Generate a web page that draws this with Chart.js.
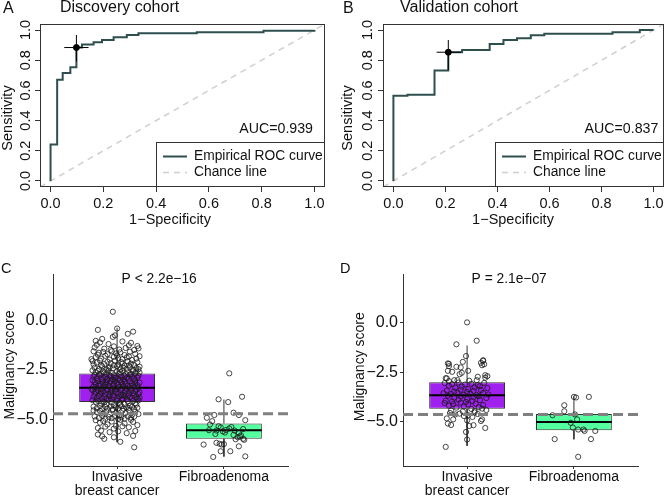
<!DOCTYPE html>
<html>
<head>
<meta charset="utf-8">
<title>ROC and malignancy score</title>
<script src="https://cdn.jsdelivr.net/npm/chart.js@4.4.1/dist/chart.umd.min.js"></script>
<style>
  body { margin: 0; background: #fff; width: 669px; height: 498px; position: relative; overflow: hidden; }
  canvas { position: absolute; }
</style>
</head>
<body>
<canvas id="rocA" width="335" height="250" style="left:0;top:0"></canvas>
<canvas id="rocB" width="334" height="250" style="left:335px;top:0"></canvas>
<canvas id="boxC" width="335" height="248" style="left:0;top:250px"></canvas>
<canvas id="boxD" width="334" height="248" style="left:335px;top:250px"></canvas>
<script>
// ---- ROC data (1-specificity / sensitivity at each step corner) ----
const discFpr = [0, 0, 0.025, 0.046, 0.075, 0.098, 0.119, 0.163, 0.195, 0.239, 0.289, 0.333, 0.554, 0.807, 1.0];
const discTpr = [0, 0.242, 0.670, 0.716, 0.754, 0.884, 0.905, 0.919, 0.934, 0.952, 0.967, 0.978, 0.985, 0.996, 1.0];
const discCut = [0.098, 0.884];
const discCutFpr = [0.052, 0.144];
const discCutTpr = [0.791, 0.967];
const discAuc = 'AUC=0.939';

const valFpr = [0, 0, 0.054, 0.158, 0.211, 0.264, 0.370, 0.423, 0.475, 0.528, 0.580, 0.842, 0.947, 1.0];
const valTpr = [0, 0.565, 0.571, 0.732, 0.853, 0.868, 0.908, 0.934, 0.945, 0.965, 0.976, 0.985, 1.0, 1.0];
const valCut = [0.211, 0.853];
const valCutFpr = [0.166, 0.260];
const valCutTpr = [0.736, 0.934];
const valAuc = 'AUC=0.837';

const rocTicks = [0, 0.2, 0.4, 0.6, 0.8, 1.0];
const rocRange = [-0.04, 1.04];

// ---- malignancy score data ----
const groupLabels = [['Invasive', 'breast cancer'], ['Fibroadenoma']];
const scoreTicks = [-5, -2.5, 0];

// box stats per group: [invasive, fibroadenoma]
const discLow = [-6.17, -6.90];
const discQ1 = [-4.13, -6.00];
const discMed = [-3.40, -5.56];
const discQ3 = [-2.68, -5.22];
const discHigh = [-0.35, -4.00];
const discCutoff = -4.72;
const discP = 'P < 2.2e\u221216';

const valLow = [-6.20, -5.87];
const valQ1 = [-4.34, -5.42];
const valMed = [-3.66, -5.00];
const valQ3 = [-3.00, -4.60];
const valHigh = [-1.16, -3.70];
const valCutoff = -4.62;
const valP = 'P = 2.1e\u221207';

// jittered points [x, score]
const discInvasive = [
  [0.96,0.46],[1.00,-0.39],[0.82,-0.46],[1.10,-0.66],[1.15,-0.55],[0.96,-0.82],[0.98,-0.74],[0.80,-1.02],[0.86,-0.92],
  [0.84,-1.10],[0.92,-1.18],[1.05,-1.05],[1.13,-1.12],[1.19,-1.28],[0.79,-1.35],[0.88,-1.42],[0.97,-1.30],[1.02,-1.46],[1.08,-1.38],[1.16,-1.48],[0.81,-1.22],[1.11,-1.25],[0.94,-1.48],[1.20,-1.40],
  [0.78,-1.55],[0.83,-1.62],[0.87,-1.58],[0.91,-1.70],[0.95,-1.55],[0.99,-1.66],[1.03,-1.60],[1.07,-1.74],[1.12,-1.57],[1.17,-1.68],[1.21,-1.80],[0.80,-1.85],[0.85,-1.92],[0.89,-1.78],[0.93,-1.97],[0.97,-1.83],[1.01,-1.90],[1.05,-1.95],[1.09,-1.86],[1.14,-1.99],[1.18,-1.92],[0.82,-1.72],[1.00,-1.76],[1.11,-1.81],[0.76,-1.95],
  [0.77,-2.05],[0.81,-2.12],[0.84,-2.02],[0.88,-2.20],[0.91,-2.08],[0.94,-2.15],[0.98,-2.03],[1.01,-2.22],[1.04,-2.10],[1.07,-2.28],[1.10,-2.06],[1.13,-2.18],[1.16,-2.25],[1.19,-2.11],[1.21,-2.33],[0.79,-2.38],[0.83,-2.45],[0.86,-2.31],[0.90,-2.48],[0.93,-2.36],[0.96,-2.42],[1.00,-2.30],[1.03,-2.47],[1.06,-2.39],[1.09,-2.44],[1.12,-2.35],[1.15,-2.49],[1.18,-2.40],[0.85,-2.26],[0.97,-2.26],[1.11,-2.27],[0.78,-2.22],[0.92,-2.41],[1.05,-2.17],[1.20,-2.46],
  [0.77,-2.52],[0.80,-2.60],[0.82,-2.55],[0.85,-2.68],[0.87,-2.58],[0.90,-2.71],[0.92,-2.53],[0.95,-2.64],[0.97,-2.76],[1.00,-2.57],[1.02,-2.69],[1.05,-2.54],[1.07,-2.81],[1.10,-2.62],[1.12,-2.74],[1.15,-2.56],[1.17,-2.67],[1.20,-2.79],[0.78,-2.84],[0.81,-2.92],[0.84,-2.78],[0.86,-2.97],[0.89,-2.86],[0.91,-2.94],[0.94,-2.82],[0.96,-2.99],[0.99,-2.88],[1.01,-2.95],[1.04,-2.83],[1.06,-2.98],[1.09,-2.89],[1.11,-2.93],[1.14,-2.85],[1.16,-2.96],[1.19,-2.90],[1.21,-2.63],[0.83,-2.72],[0.93,-2.77],[1.03,-2.61],[1.13,-2.70],[0.79,-2.75],[0.88,-2.63],[0.98,-2.91],[1.08,-2.72],[1.18,-2.58],
  [0.77,-3.03],[0.79,-3.12],[0.82,-3.06],[0.84,-3.20],[0.86,-3.09],[0.89,-3.25],[0.91,-3.02],[0.93,-3.15],[0.96,-3.28],[0.98,-3.05],[1.00,-3.18],[1.03,-3.01],[1.05,-3.23],[1.07,-3.10],[1.10,-3.30],[1.12,-3.07],[1.14,-3.19],[1.17,-3.04],[1.19,-3.27],[1.21,-3.14],[0.78,-3.34],[0.81,-3.42],[0.83,-3.31],[0.85,-3.48],[0.88,-3.37],[0.90,-3.45],[0.92,-3.33],[0.95,-3.49],[0.97,-3.39],[0.99,-3.46],[1.02,-3.35],[1.04,-3.44],[1.06,-3.32],[1.09,-3.47],[1.11,-3.38],[1.13,-3.43],[1.16,-3.36],[1.18,-3.49],[1.20,-3.41],[0.80,-3.22],[0.87,-3.17],[0.94,-3.08],[1.01,-3.26],[1.08,-3.21],[1.15,-3.29],[0.76,-3.45],[0.90,-3.13],[1.04,-3.13],[1.17,-3.16],[0.97,-3.21],
  [0.77,-3.53],[0.80,-3.61],[0.82,-3.55],[0.84,-3.70],[0.87,-3.58],[0.89,-3.74],[0.91,-3.52],[0.94,-3.66],[0.96,-3.79],[0.98,-3.56],[1.01,-3.68],[1.03,-3.51],[1.06,-3.76],[1.08,-3.59],[1.10,-3.81],[1.13,-3.54],[1.15,-3.67],[1.17,-3.57],[1.20,-3.73],[0.78,-3.85],[0.81,-3.93],[0.83,-3.82],[0.86,-3.97],[0.88,-3.88],[0.90,-3.95],[0.93,-3.84],[0.95,-3.99],[0.97,-3.89],[1.00,-3.96],[1.02,-3.86],[1.05,-3.94],[1.07,-3.83],[1.09,-3.98],[1.12,-3.87],[1.14,-3.92],[1.16,-3.80],[1.19,-3.95],[1.21,-3.63],[0.85,-3.64],[0.92,-3.72],[0.99,-3.62],[1.04,-3.78],[1.11,-3.69],[1.18,-3.88],[0.79,-3.71],[0.95,-3.57],[1.07,-3.65],[1.21,-3.91],
  [0.77,-4.03],[0.80,-4.12],[0.82,-4.06],[0.85,-4.20],[0.87,-4.09],[0.90,-4.25],[0.92,-4.02],[0.95,-4.16],[0.97,-4.29],[1.00,-4.05],[1.02,-4.18],[1.05,-4.01],[1.07,-4.23],[1.10,-4.10],[1.12,-4.31],[1.15,-4.07],[1.17,-4.19],[1.20,-4.04],[0.78,-4.36],[0.81,-4.44],[0.84,-4.33],[0.86,-4.48],[0.89,-4.38],[0.91,-4.46],[0.94,-4.35],[0.96,-4.49],[0.99,-4.40],[1.01,-4.45],[1.04,-4.34],[1.06,-4.47],[1.09,-4.39],[1.11,-4.43],[1.14,-4.37],[1.16,-4.50],[1.19,-4.42],[0.88,-4.14],[1.03,-4.27],[1.18,-4.26],
  [0.78,-4.55],[0.81,-4.63],[0.84,-4.58],[0.87,-4.71],[0.90,-4.60],[0.93,-4.76],[0.96,-4.53],[0.99,-4.67],[1.02,-4.80],[1.05,-4.57],[1.08,-4.69],[1.11,-4.54],[1.14,-4.78],[1.17,-4.62],[1.20,-4.74],[0.79,-4.86],[0.83,-4.94],[0.86,-4.83],[0.89,-4.98],[0.92,-4.88],[0.95,-4.95],[0.98,-4.84],[1.01,-4.99],[1.04,-4.90],[1.07,-4.97],[1.10,-4.85],[1.13,-4.92],[1.16,-4.87],
  [0.80,-5.05],[0.84,-5.18],[0.87,-5.09],[0.91,-5.27],[0.95,-5.12],[0.99,-5.34],[1.03,-5.03],[1.07,-5.22],[1.11,-5.41],[1.15,-5.14],[1.19,-5.30],[0.82,-5.45],[0.89,-5.38],[0.97,-5.48],[1.05,-5.36],[1.13,-5.03],
  [0.85,-5.58],[0.93,-5.66],[1.01,-5.62],[1.09,-5.71],[1.17,-5.60],[0.82,-5.78],[0.86,-5.87],[0.88,-6.00],[1.03,-6.15],[0.97,-5.92],[1.15,-5.85],[1.16,-6.43]
];
const discFibro = [
  [1.95,-3.99],[2.04,-4.13],[2.17,-3.86],[2.05,-2.67],[2.09,-4.67],[2.14,-4.79],[1.91,-4.79],[1.84,-4.93],[1.89,-5.10],[2.20,-5.05],[1.87,-5.27],
  [1.86,-5.56],[1.93,-5.58],[1.97,-5.42],[2.02,-5.55],[2.05,-5.47],[2.10,-5.58],[2.14,-5.70],[2.18,-5.50],[1.92,-5.75],[2.01,-5.68],[2.09,-5.80],[2.13,-5.92],[2.16,-5.82],[2.18,-6.00],[2.11,-6.02],[2.19,-6.05],[1.95,-5.36],[2.07,-5.40],[2.15,-5.88],[1.99,-5.62],
  [1.81,-6.29],[1.93,-6.20],[1.96,-6.25],[1.98,-6.29],[2.14,-6.38],[2.06,-6.63],[1.97,-6.63],[1.90,-6.92],[2.20,-6.89],[2.00,-6.27]
];
const valInvasive = [
  [1.00,0.00],[0.90,-1.10],[1.09,-0.92],[0.99,-1.69],[0.83,-2.08],[1.15,-1.90],[1.16,-2.10],[1.19,-2.70],[0.80,-2.80],
  [0.82,-2.06],[0.83,-2.20],[0.82,-2.43],[0.86,-2.48],[0.90,-2.23],[0.94,-2.26],[0.96,-1.98],[0.95,-2.53],[0.93,-2.60],[1.01,-2.43],[1.13,-2.03],[1.15,-1.93],[1.14,-2.15],[1.17,-2.65],[1.17,-2.78],[1.10,-2.73],[1.09,-2.90],[0.81,-2.81],[0.83,-2.95],[0.88,-2.90],[0.91,-2.90],[1.02,-2.93],
  [0.79,-3.05],[0.83,-3.18],[0.86,-3.10],[0.89,-3.28],[0.92,-3.02],[0.95,-3.22],[0.98,-3.12],[1.01,-3.35],[1.04,-3.08],[1.07,-3.26],[1.10,-3.15],[1.13,-3.40],[1.16,-3.04],[1.19,-3.30],[0.81,-3.42],[0.88,-3.47],[0.94,-3.38],[1.00,-3.49],[1.06,-3.44],[1.12,-3.20],
  [0.78,-3.55],[0.82,-3.68],[0.85,-3.60],[0.88,-3.78],[0.91,-3.52],[0.94,-3.72],[0.97,-3.63],[1.00,-3.85],[1.03,-3.58],[1.06,-3.76],[1.09,-3.65],[1.12,-3.90],[1.15,-3.54],[1.18,-3.80],[0.80,-3.93],[0.86,-3.97],[0.92,-3.88],[0.99,-3.99],[1.05,-3.94],[1.11,-3.70],[1.20,-3.62],
  [0.79,-4.05],[0.83,-4.18],[0.87,-4.10],[0.90,-4.28],[0.94,-4.03],[0.97,-4.22],[1.01,-4.12],[1.04,-4.35],[1.08,-4.08],[1.11,-4.26],[1.15,-4.15],[1.18,-4.40],[0.85,-4.42],[0.96,-4.47],[1.07,-4.45],[1.14,-4.33],
  [0.84,-4.55],[0.89,-4.62],[0.93,-4.58],[0.97,-4.70],[1.01,-4.66],[1.05,-4.75],[1.10,-4.60],[1.14,-4.87],[0.81,-4.82],[0.87,-4.87],[1.00,-4.92],[1.07,-4.52],
  [0.82,-5.08],[0.85,-5.15],[1.06,-5.16],[1.17,-5.30],[0.99,-5.50],[1.00,-5.88],[0.80,-6.25],[1.13,-4.95],[1.02,-5.20]
];
const valFibro = [
  [2.00,-3.74],[2.02,-3.77],[2.14,-3.74],[1.91,-4.16],[1.91,-4.46],[1.80,-4.66],[2.01,-4.62],[2.03,-4.87],[1.97,-5.04],
  [1.99,-5.28],[2.04,-5.38],[2.09,-5.38],[2.10,-5.45],[2.20,-5.45],[1.82,-5.86],[2.16,-5.86],[2.04,-6.75]
];

const FONT = '"Liberation Sans", Arial, Helvetica, sans-serif';
Chart.defaults.font.family = FONT;
Chart.defaults.color = '#111';

const ROC_COLOR = '#2f4f4f';
const CHANCE_COLOR = '#cfcfcf';
const BOX_WIDTH = 0.71;
const BOX_FILLS = ['#a020f0', '#54ff9f'];

function xy(xs, ys) {
  return xs.map((x, i) => ({ x: x, y: ys[i] }));
}

function lineSet(data, color, width, dash) {
  return { type: 'line', data: data, borderColor: color, borderWidth: width, borderDash: dash || [],
           pointRadius: 0, fill: false, tension: 0 };
}

// draws texts and the frame that are not part of Chart.js axes
function extras(draw) {
  return { id: 'extras', afterDraw(chart) {
    const ctx = chart.ctx;
    ctx.save();
    draw(ctx, chart);
    ctx.restore();
  } };
}

function rocChart(id, p) {
  const datasets = [
    { type: 'scatter', data: [{ x: p.cut[0], y: p.cut[1] }], pointRadius: 3,
      pointBackgroundColor: '#000', pointBorderColor: '#000', showLine: false },
    lineSet(xy(p.cutFpr, [p.cut[1], p.cut[1]]), '#000', 1),
    lineSet(xy([p.cut[0], p.cut[0]], p.cutTpr), '#000', 1),
    Object.assign(lineSet(xy(p.fpr, p.tpr), ROC_COLOR, 2), { stepped: 'before' }),
    lineSet(xy(rocRange, rocRange), CHANCE_COLOR, 1.5, [6, 5])
  ];

  return new Chart(document.getElementById(id), {
    type: 'scatter',
    data: { datasets: datasets },
    options: {
      responsive: false, animation: false, devicePixelRatio: 1,
      layout: { padding: { left: 0, top: 24, right: p.padRight, bottom: 0 } },
      plugins: { legend: { display: false }, tooltip: { enabled: false } },
      scales: {
        x: {
          type: 'linear', min: rocRange[0], max: rocRange[1],
          afterBuildTicks: (s) => { s.ticks = rocTicks.map(v => ({ value: v })); },
          afterFit: (s) => { s.height = 63; },
          grid: { drawOnChartArea: false, tickLength: 5, color: '#333' },
          border: { display: false },
          ticks: { padding: 3, autoSkip: false, maxRotation: 0, font: { size: 14.5 }, color: '#111',
                   callback: (v) => v.toFixed(1) }
        },
        y: {
          type: 'linear', min: rocRange[0], max: rocRange[1],
          afterBuildTicks: (s) => { s.ticks = rocTicks.map(v => ({ value: v })); },
          afterFit: (s) => { s.width = p.yWidth; },
          grid: { drawOnChartArea: false, tickLength: 5, color: '#333' },
          border: { display: false },
          ticks: { display: false }
        }
      }
    },
    plugins: [extras((ctx, chart) => {
      const a = chart.chartArea;
      const ys = chart.scales.y;
      ctx.strokeStyle = '#333';
      ctx.lineWidth = 1;
      ctx.strokeRect(a.left + 0.5, a.top + 0.5, a.right - a.left - 1, a.bottom - a.top - 1);

      // legend box
      const lx = a.right - 169, ly = a.bottom - 45;
      ctx.fillStyle = '#fff';
      ctx.fillRect(lx, ly, a.right - lx, a.bottom - ly);
      ctx.strokeRect(lx + 0.5, ly + 0.5, a.right - lx - 1, a.bottom - ly - 1);
      ctx.beginPath();
      ctx.strokeStyle = ROC_COLOR; ctx.lineWidth = 2;
      ctx.moveTo(lx + 7, ly + 14.5); ctx.lineTo(lx + 31, ly + 14.5); ctx.stroke();
      ctx.beginPath();
      ctx.strokeStyle = CHANCE_COLOR; ctx.lineWidth = 1.5; ctx.setLineDash([6, 5]);
      ctx.moveTo(lx + 7, ly + 30.5); ctx.lineTo(lx + 31, ly + 30.5); ctx.stroke();
      ctx.setLineDash([]);
      ctx.fillStyle = '#111';
      ctx.font = '13.8px ' + FONT;
      ctx.textAlign = 'left'; ctx.textBaseline = 'middle';
      ctx.fillText('Empirical ROC curve', lx + 38, ly + 14.5);
      ctx.fillText('Chance line', lx + 38, ly + 30.5);

      // AUC
      ctx.font = '14.2px ' + FONT;
      ctx.textAlign = 'right'; ctx.textBaseline = 'alphabetic';
      ctx.fillText(p.auc, p.aucRight, 133);

      // rotated y tick labels
      ctx.font = '14.5px ' + FONT;
      rocTicks.forEach(v => {
        ctx.save();
        ctx.translate(p.yLabelBase, ys.getPixelForValue(v));
        ctx.rotate(-Math.PI / 2);
        ctx.textAlign = 'center';
        ctx.fillText(v.toFixed(1), 0, 0);
        ctx.restore();
      });

      // axis titles
      ctx.save();
      ctx.translate(p.yTitleBase, 118);
      ctx.rotate(-Math.PI / 2);
      ctx.textAlign = 'center';
      ctx.fillText('Sensitivity', 0, 0);
      ctx.restore();
      ctx.textAlign = 'center';
      ctx.fillText('1\u2212Specificity', p.xTitleX, 224);

      // panel letter and title
      ctx.font = '16px ' + FONT;
      ctx.textAlign = 'left';
      ctx.fillText(p.letter, p.letterX, 13);
      ctx.fillText(p.title, p.titleX, 12);
    })]
  });
}

function scoreChart(id, p) {
  const hw = BOX_WIDTH / 2;
  const xMin = 0.4, xMax = 2.6;
  const pts = p.invasive.concat(p.fibro).map(d => ({ x: d[0], y: d[1] }));
  const datasets = [
    lineSet(xy([xMin, xMax], [p.cutoff, p.cutoff]), '#808080', 3, [10, 5]),
    { type: 'scatter', data: pts, pointRadius: 2.6, pointBorderWidth: 0.8, pointBorderColor: '#1a1a1a',
      pointBackgroundColor: 'rgba(0,0,0,0)', showLine: false }
  ];
  [1, 2].forEach((g, i) => {
    datasets.push(lineSet(xy([g - hw, g + hw], [p.med[i], p.med[i]]), '#000', 2));
  });
  datasets.push({
    type: 'bar', data: [1, 2].map((g, i) => ({ x: g, y: [p.q1[i], p.q3[i]] })),
    backgroundColor: BOX_FILLS, borderColor: '#333', borderWidth: 1, borderSkipped: false,
    barPercentage: BOX_WIDTH, categoryPercentage: 1
  });
  [1, 2].forEach((g, i) => {
    datasets.push(lineSet(xy([g, g], [p.q3[i], p.high[i]]), '#333', 1));
    datasets.push(lineSet(xy([g, g], [p.q1[i], p.low[i]]), '#333', 1));
  });

  return new Chart(document.getElementById(id), {
    type: 'scatter',
    data: { datasets: datasets },
    options: {
      responsive: false, animation: false, devicePixelRatio: 1,
      layout: { padding: { left: 0, top: 24, right: p.padRight, bottom: 0 } },
      plugins: { legend: { display: false }, tooltip: { enabled: false } },
      scales: {
        x: {
          type: 'linear', min: xMin, max: xMax, offset: false,
          afterBuildTicks: (s) => { s.ticks = [1, 2].map(v => ({ value: v })); },
          afterFit: (s) => { s.height = 32; },
          grid: { drawOnChartArea: false, offset: false, tickLength: 3, color: '#333' },
          border: { display: true, color: '#333', width: 1 },
          ticks: { padding: 1.7, autoSkip: false, maxRotation: 0, color: '#111',
                   font: { size: 14, lineHeight: 0.97 },
                   callback: (v) => groupLabels[v - 1] }
        },
        y: {
          type: 'linear', min: p.yMin, max: p.yMax, beginAtZero: false,
          afterBuildTicks: (s) => { s.ticks = scoreTicks.map(v => ({ value: v })); },
          afterFit: (s) => { s.width = p.yWidth; },
          grid: { drawOnChartArea: false, tickLength: 3, color: '#333' },
          border: { display: true, color: '#333', width: 1 },
          ticks: { padding: 2, color: '#111', font: { size: 16 },
                   callback: (v) => (v < 0 ? '\u2212' : '') + Math.abs(v).toFixed(1) }
        }
      }
    },
    plugins: [extras((ctx, chart) => {
      const a = chart.chartArea;
      ctx.fillStyle = '#111';
      ctx.font = '13.8px ' + FONT;
      ctx.textAlign = 'left'; ctx.textBaseline = 'alphabetic';
      ctx.fillText(p.pText, chart.scales.x.getPixelForValue(1) + 4.5, a.top + 9.3);

      ctx.font = '14px ' + FONT;
      ctx.save();
      ctx.translate(p.yTitleBase, p.yTitleMid);
      ctx.rotate(-Math.PI / 2);
      ctx.textAlign = 'center';
      ctx.fillText('Malignancy score', 0, 0);
      ctx.restore();

      ctx.font = '14.5px ' + FONT;
      ctx.textAlign = 'left';
      ctx.fillText(p.letter, p.letterX, 23.3);
    })]
  });
}

rocChart('rocA', {
  fpr: discFpr, tpr: discTpr, cut: discCut, cutFpr: discCutFpr, cutTpr: discCutTpr, auc: discAuc,
  letter: 'A', title: 'Discovery cohort', yWidth: 40, padRight: 10,
  letterX: 3, titleX: 60, aucRight: 313, yLabelBase: 30.3, yTitleBase: 11.5, xTitleX: 170
});
rocChart('rocB', {
  fpr: valFpr, tpr: valTpr, cut: valCut, cutFpr: valCutFpr, cutTpr: valCutTpr, auc: valAuc,
  letter: 'B', title: 'Validation cohort', yWidth: 48, padRight: 1,
  letterX: 8, titleX: 65, aucRight: 323.3, yLabelBase: 36.5, yTitleBase: 16.5, xTitleX: 178
});
scoreChart('boxC', {
  invasive: discInvasive, fibro: discFibro, low: discLow, q1: discQ1, med: discMed, q3: discQ3, high: discHigh,
  cutoff: discCutoff, pText: discP, yMin: -7.38, yMax: 2.38, yWidth: 53, padRight: 47,
  letter: 'C', letterX: 1, yTitleBase: 13.5, yTitleMid: 115
});
scoreChart('boxD', {
  invasive: valInvasive, fibro: valFibro, low: valLow, q1: valQ1, med: valMed, q3: valQ3, high: valHigh,
  cutoff: valCutoff, pText: valP, yMin: -7.21, yMax: 2.43, yWidth: 68, padRight: 31,
  letter: 'D', letterX: 5, yTitleBase: 28.5, yTitleMid: 116.7
});
</script>
</body>
</html>
